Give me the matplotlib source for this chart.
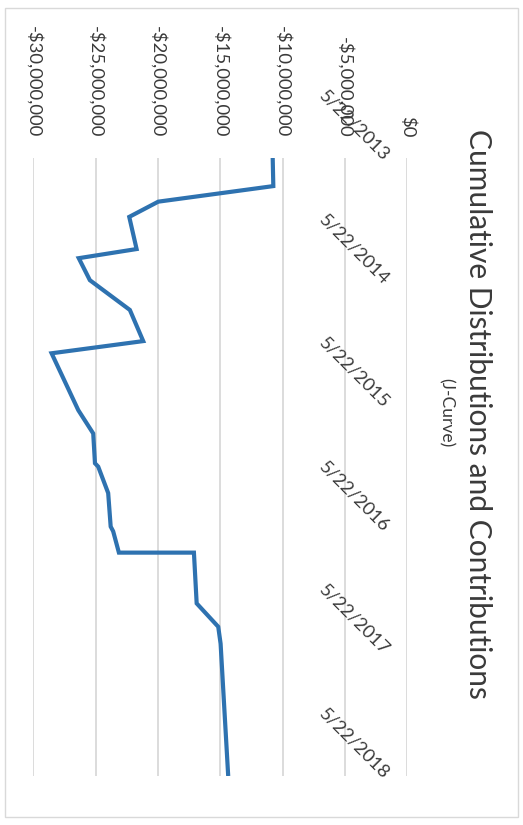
import matplotlib
matplotlib.use("Agg")
import matplotlib.pyplot as plt
import matplotlib.dates as mdates
from matplotlib.patches import Rectangle
import pandas as pd
import numpy as np

# Cumulative net cash flow (distributions minus contributions), USD
flow_dates = ["2013-05-22", "2013-08-13", "2013-09-28", "2013-11-12", "2014-02-15",
              "2014-03-14", "2014-05-18", "2014-08-14", "2014-11-14", "2014-12-20",
              "2015-06-06", "2015-08-14", "2015-11-10", "2015-11-20", "2016-02-06",
              "2016-05-15", "2016-05-29", "2016-07-31", "2016-07-31", "2016-12-28",
              "2017-03-07", "2017-04-26", "2018-05-22"]
cumulative_musd = [-10.80, -10.75, -19.98, -22.31, -21.72,
                   -26.36, -25.47, -22.26, -21.19, -28.54,
                   -26.40, -25.20, -25.06, -24.80, -24.00,
                   -23.80, -23.60, -23.14, -17.12, -16.90,
                   -15.17, -14.98, -14.37]

value_ticks = [-30e6, -25e6, -20e6, -15e6, -10e6, -5e6, 0]
value_labels = ["-$30,000,000", "-$25,000,000", "-$20,000,000", "-$15,000,000",
                "-$10,000,000", "-$5,000,000", "$0"]
date_ticks = ["2013-05-22", "2014-05-22", "2015-05-22", "2016-05-22", "2017-05-22", "2018-05-22"]
date_labels = ["5/22/2013", "5/22/2014", "5/22/2015", "5/22/2016", "5/22/2017", "5/22/2018"]

title = "Cumulative Distributions and Contributions"
subtitle = "(J-Curve)"

plt.rcParams["font.family"] = ["Lato", "DejaVu Sans"]
text_color = "#3a3a3a"
grid_color = "#d9d9d9"
line_color = "#2e72b0"

W, H = 523, 825
fig = plt.figure(figsize=(W / 100, H / 100), dpi=100)
fig.patch.set_facecolor("white")

# chart area border
fig.patches.append(Rectangle((5 / W, 8 / H), 513 / W, 809 / H, transform=fig.transFigure,
                             fill=False, edgecolor=grid_color, linewidth=1.0))

# plot area (chart is laid out sideways: values run across, time runs down)
left, right, top, bottom = 33.4, 407.3, 158.0, 776.0
ax = fig.add_axes([left / W, 1 - bottom / H, (right - left) / W, (bottom - top) / H])
ax.set_facecolor("none")

x_dates = mdates.date2num(pd.to_datetime(flow_dates))
values = np.array(cumulative_musd) * 1e6
ax.plot(values, x_dates, color=line_color, linewidth=3.0, solid_joinstyle="miter",
        solid_capstyle="butt", zorder=3)

d0 = mdates.date2num(pd.Timestamp(date_ticks[0]))
d1 = mdates.date2num(pd.Timestamp(date_ticks[-1]))
ax.set_ylim(d1, d0)
ax.set_xlim(value_ticks[0], value_ticks[-1])

for v in value_ticks:
    ax.axvline(v, color=grid_color, linewidth=1.3, zorder=1)

for s in ax.spines.values():
    s.set_visible(False)

ax.set_xticks(value_ticks)
ax.set_xticklabels(value_labels)
ax.xaxis.tick_top()
ax.tick_params(axis="x", which="both", length=0, pad=15, labelsize=13.3,
               labelcolor=text_color, labelrotation=-90, top=True, labeltop=True,
               bottom=False, labelbottom=False)
ax.set_yticks([])

# date labels hang off the $0 axis
tick_nums = mdates.date2num(pd.to_datetime(date_ticks))
x_anchor = 1 - 21 / (right - left)
for dn, lab in zip(tick_nums, date_labels):
    ax.text(x_anchor, dn, lab, transform=ax.get_yaxis_transform(), rotation=-45,
            rotation_mode="anchor", ha="right", va="center", fontsize=13.3,
            color=text_color, zorder=2)

fig.text(478 / W, 1 - 414 / H, title, rotation=-90, ha="center", va="center",
         fontsize=21.5, color=text_color)
fig.text(446 / W, 1 - 413 / H, subtitle, rotation=-90, ha="center", va="center",
         fontsize=12.5, color=text_color)

fig.savefig("out.png", dpi=100)
